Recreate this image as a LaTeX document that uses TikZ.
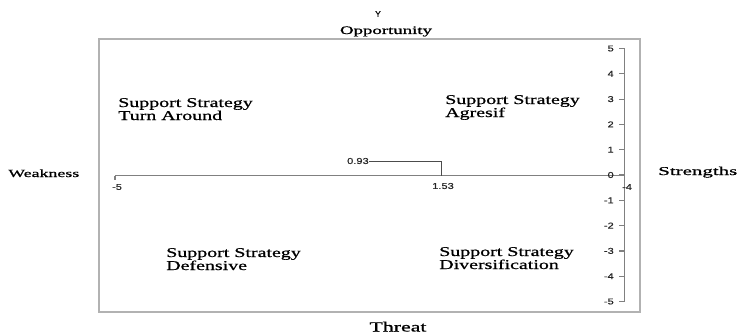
\documentclass[tikz,border=0pt]{standalone}
\usepackage{fontspec}
\usepackage{graphicx}
\setmainfont[FakeBold=0.7]{Liberation Serif}
\newfontfamily\arialf[FakeBold=0.4]{Liberation Sans}
\newcommand\fpt[1]{\fontsize{#1}{#1}\selectfont}
\newcommand\qsx[1]{\scalebox{1.48}[1]{#1}}
\newcommand\tsx[1]{\scalebox{1.3}[1]{#1}}
\begin{document}
\begin{tikzpicture}[x=0.75pt,y=-0.75pt,
  frame/.style={draw=black!30, line width=1.5pt},
  axisline/.style={draw=black!50, line width=0.9pt},
  bracketline/.style={draw=black!70, line width=0.75pt},
  ticklab/.style={inner sep=0pt, font=\arialf\fpt{6.4pt}, text=black!85},
  quadlab/.style={inner sep=0pt, anchor=base west, font=\fpt{10.1pt}},
  sidelab/.style={inner sep=0pt}]
\useasboundingbox (0,0) rectangle (738,335);
% frame
\draw[frame] (99,39) rectangle (640,312);
% titles
\node[sidelab, font=\arialf\fpt{6.5pt}] (ytitle) at (378,14) {Y};
\node[sidelab, anchor=base, font=\fpt{8.6pt}] (opp) at (386,34) {\resizebox{69pt}{\height}{Opportunity}};
\node[sidelab, anchor=base, font=\fpt{10.5pt}] (thr) at (398,331.5) {\resizebox{42.75pt}{\height}{Threat}};
\node[sidelab, anchor=base west, font=\fpt{8.25pt}] (weak) at (8,177) {\resizebox{53.25pt}{\height}{Weakness}};
\node[sidelab, anchor=base west, font=\fpt{9pt}] (str) at (658,175) {\resizebox{59.25pt}{\height}{Strengths}};
% quadrant labels
\node[quadlab] (tl1) at (118,107) {\qsx{Support Strategy}};
\node[quadlab] (tl2) at (118,120) {\qsx{Turn Around}};
\node[quadlab] (tr1) at (445,104) {\qsx{Support Strategy}};
\node[quadlab] (tr2) at (445,117) {\qsx{Agresif}};
\node[quadlab] (bl1) at (166,257) {\qsx{Support Strategy}};
\node[quadlab] (bl2) at (166,270) {\qsx{Defensive}};
\node[quadlab] (br1) at (439,256) {\qsx{Support Strategy}};
\node[quadlab] (br2) at (439,269) {\qsx{Diversification}};
% axes
\coordinate (xl) at (115,175.5);
\coordinate (xr) at (624.5,175.5);
\coordinate (yt) at (624.5,49);
\coordinate (yb) at (624.5,302);
\draw[axisline] (xl) -- (xr);
\draw[axisline] (yt) -- (yb);
\coordinate (xlt) at (115,179.5);
\draw[axisline] (xl) -- (xlt);
% y ticks and labels
\foreach \v [count=\i] in {5,4,3,2,1,0,-1,-2,-3,-4,-5} {
  \coordinate (ya\i) at (624.5,{175-25.3*\v});
  \coordinate (yc\i) at (619,{175-25.3*\v});
  \draw[axisline] (yc\i) -- (ya\i);
  \node[ticklab, anchor=east] (yl\i) at (614,{175-25.3*\v}) {\tsx{\v}};
}
% x labels
\node[ticklab] (xm5) at (117,187) {\tsx{-5}};
\node[ticklab] (xm4) at (627,187) {\tsx{-4}};
\node[ticklab] (x153) at (443,186) {\tsx{1.53}};
% bracket
\node[ticklab, anchor=east] (o93) at (369,161) {\tsx{0.93}};
\coordinate (bc) at (441,161);
\coordinate (bd) at (441,175.5);
\draw[bracketline] (o93.east) -- (bc) -- (bd);
\end{tikzpicture}
\end{document}
